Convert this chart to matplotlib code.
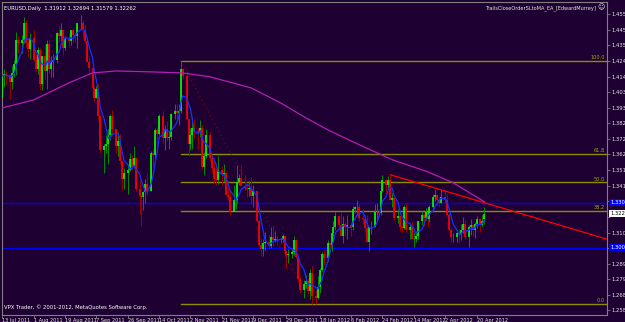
"""EURUSD daily candles (Jul 2011 - Apr 2012) drawn in MetaTrader style."""

import matplotlib

matplotlib.use("Agg")
import matplotlib.pyplot as plt  # noqa: E402
import matplotlib.transforms as mtransforms  # noqa: E402
import numpy as np  # noqa: E402
import pandas as pd  # noqa: E402

# ---- data ----------------------------------------------------------------
start_day = "2011-07-13"
end_day = "2012-04-25"
first_open = 1.4000
last_open = 1.31912

high_jul = [1.4150, 1.4190, 1.4180, 1.4150, 1.4210, 1.4250, 1.4435, 1.4410, 1.4420, 1.4540, 1.4515, 1.4395, 1.4430]
low_jul = [1.3990, 1.4070, 1.4085, 1.3990, 1.4060, 1.4140, 1.4150, 1.4300, 1.4300, 1.4365, 1.4340, 1.4270, 1.4260]
close_jul = [1.4145, 1.4155, 1.4150, 1.4105, 1.4165, 1.4225, 1.4385, 1.4365, 1.4385, 1.4500, 1.4365, 1.4325, 1.4395]

high_aug = [1.4450, 1.4290, 1.4340, 1.4330, 1.4280, 1.4355, 1.4385, 1.4385, 1.4280, 1.4290, 1.4440, 1.4480,
            1.4495, 1.4425, 1.4410, 1.4430, 1.4445, 1.4465, 1.4440, 1.4500, 1.4548, 1.4515, 1.4490]
low_aug = [1.4245, 1.4175, 1.4160, 1.4050, 1.4050, 1.4125, 1.4060, 1.4165, 1.4135, 1.4140, 1.4230, 1.4370,
           1.4380, 1.4285, 1.4320, 1.4340, 1.4350, 1.4370, 1.4370, 1.4330, 1.4460, 1.4390, 1.4365]
close_aug = [1.4250, 1.4190, 1.4320, 1.4090, 1.4280, 1.4180, 1.4355, 1.4190, 1.4240, 1.4250, 1.4430, 1.4410,
             1.4450, 1.4330, 1.4390, 1.4380, 1.4450, 1.4415, 1.4410, 1.4495, 1.4500, 1.4450, 1.4380]

high_sep = [1.4405, 1.4270, 1.4185, 1.4080, 1.4080, 1.4090, 1.3880, 1.3690, 1.3750, 1.3790, 1.3890,
            1.3915, 1.3790, 1.3770, 1.3760, 1.3580, 1.3530, 1.3560, 1.3630, 1.3620, 1.3680, 1.3600]
low_sep = [1.4235, 1.4150, 1.4030, 1.3975, 1.3995, 1.3850, 1.3630, 1.3495, 1.3630, 1.3560, 1.3720,
           1.3745, 1.3630, 1.3610, 1.3560, 1.3385, 1.3390, 1.3360, 1.3510, 1.3520, 1.3530, 1.3380]
close_sep = [1.4235, 1.4200, 1.4065, 1.4000, 1.4060, 1.3880, 1.3650, 1.3680, 1.3690, 1.3750, 1.3880,
             1.3790, 1.3680, 1.3710, 1.3580, 1.3460, 1.3495, 1.3520, 1.3590, 1.3540, 1.3600, 1.3390]

high_oct = [1.3450, 1.3350, 1.3380, 1.3460, 1.3500, 1.3645, 1.3660, 1.3800, 1.3805, 1.3890, 1.3910,
            1.3820, 1.3845, 1.3775, 1.3895, 1.3960, 1.3960, 1.3960, 1.4247, 1.4200, 1.4170]
low_oct = [1.3225, 1.3145, 1.3250, 1.3300, 1.3350, 1.3380, 1.3540, 1.3590, 1.3680, 1.3750, 1.3700,
           1.3650, 1.3710, 1.3655, 1.3720, 1.3860, 1.3845, 1.3820, 1.3900, 1.4125, 1.3860]
close_oct = [1.3345, 1.3335, 1.3370, 1.3425, 1.3380, 1.3630, 1.3620, 1.3785, 1.3760, 1.3880, 1.3730,
             1.3790, 1.3730, 1.3740, 1.3890, 1.3910, 1.3900, 1.3910, 1.4190, 1.4145, 1.3860]

high_nov = [1.3860, 1.3800, 1.3870, 1.3860, 1.3805, 1.3850, 1.3815, 1.3640, 1.3790, 1.3770, 1.3620,
            1.3580, 1.3560, 1.3610, 1.3545, 1.3555, 1.3510, 1.3410, 1.3380, 1.3420, 1.3380, 1.3550]
low_nov = [1.3610, 1.3650, 1.3660, 1.3730, 1.3655, 1.3735, 1.3525, 1.3485, 1.3600, 1.3580, 1.3495,
           1.3430, 1.3420, 1.3425, 1.3420, 1.3440, 1.3355, 1.3320, 1.3215, 1.3270, 1.3260, 1.3295]
close_nov = [1.3690, 1.3750, 1.3800, 1.3780, 1.3770, 1.3800, 1.3540, 1.3610, 1.3750, 1.3600, 1.3530,
             1.3460, 1.3450, 1.3520, 1.3490, 1.3500, 1.3350, 1.3340, 1.3240, 1.3320, 1.3320, 1.3440]

high_dec = [1.3490, 1.3550, 1.3485, 1.3425, 1.3445, 1.3470, 1.3420, 1.3380, 1.3190, 1.3060, 1.3060,
            1.3105, 1.3085, 1.3140, 1.3150, 1.3110, 1.3080, 1.3065, 1.3090, 1.3080, 1.2980, 1.2990]
low_dec = [1.3415, 1.3420, 1.3385, 1.3335, 1.3345, 1.3290, 1.3270, 1.3170, 1.3010, 1.2945, 1.2945,
           1.2985, 1.2990, 1.2995, 1.3010, 1.3035, 1.3015, 1.3030, 1.3040, 1.2940, 1.2860, 1.2900]
close_dec = [1.3465, 1.3410, 1.3400, 1.3390, 1.3400, 1.3345, 1.3380, 1.3180, 1.3020, 1.2990, 1.3030,
             1.3040, 1.3010, 1.3070, 1.3050, 1.3060, 1.3050, 1.3050, 1.3080, 1.2980, 1.2950, 1.2960]

high_jan = [1.2990, 1.3080, 1.3055, 1.2950, 1.2810, 1.2785, 1.2815, 1.2795, 1.2860, 1.2880, 1.2720,
            1.2810, 1.2865, 1.2970, 1.2985, 1.3050, 1.3040, 1.3100, 1.3180, 1.3235, 1.3200, 1.3235]
low_jan = [1.2930, 1.2950, 1.2930, 1.2770, 1.2700, 1.2665, 1.2730, 1.2690, 1.2660, 1.2624, 1.2625,
           1.2660, 1.2700, 1.2845, 1.2885, 1.2910, 1.2975, 1.2975, 1.3075, 1.3120, 1.3115, 1.3080]
close_jan = [1.2970, 1.3050, 1.2940, 1.2790, 1.2720, 1.2760, 1.2780, 1.2710, 1.2830, 1.2680, 1.2665,
             1.2740, 1.2850, 1.2960, 1.2930, 1.3030, 1.3020, 1.3100, 1.3140, 1.3210, 1.3150, 1.3080]

high_feb = [1.3210, 1.3170, 1.3220, 1.3170, 1.3275, 1.3280, 1.3320, 1.3290, 1.3260, 1.3220, 1.3220,
            1.3140, 1.3180, 1.3290, 1.3295, 1.3260, 1.3380, 1.3485, 1.3460, 1.3480, 1.3486]
low_feb = [1.3030, 1.3075, 1.3060, 1.3080, 1.3115, 1.3230, 1.3220, 1.3175, 1.3160, 1.3110, 1.3035,
           1.2975, 1.3090, 1.3140, 1.3180, 1.3205, 1.3215, 1.3370, 1.3345, 1.3395, 1.3325]
close_feb = [1.3160, 1.3140, 1.3150, 1.3140, 1.3260, 1.3270, 1.3270, 1.3195, 1.3190, 1.3130, 1.3040,
             1.3140, 1.3140, 1.3240, 1.3240, 1.3230, 1.3380, 1.3450, 1.3420, 1.3450, 1.3320]

high_mar = [1.3365, 1.3330, 1.3260, 1.3210, 1.3150, 1.3285, 1.3295, 1.3165, 1.3170, 1.3095, 1.3110,
            1.3180, 1.3245, 1.3240, 1.3265, 1.3245, 1.3285, 1.3355, 1.3385, 1.3360, 1.3340, 1.3385]
low_mar = [1.3270, 1.3185, 1.3165, 1.3110, 1.3105, 1.3125, 1.3105, 1.3055, 1.3055, 1.3005, 1.3040,
           1.3055, 1.3150, 1.3145, 1.3185, 1.3140, 1.3170, 1.3250, 1.3310, 1.3285, 1.3275, 1.3295]
close_mar = [1.3330, 1.3200, 1.3210, 1.3140, 1.3130, 1.3270, 1.3120, 1.3140, 1.3060, 1.3060, 1.3080,
             1.3180, 1.3220, 1.3200, 1.3240, 1.3190, 1.3270, 1.3340, 1.3350, 1.3320, 1.3300, 1.3340]

high_apr = [1.3385, 1.3355, 1.3230, 1.3135, 1.3100, 1.3120, 1.3125, 1.3155, 1.3205, 1.3185, 1.3150,
            1.3190, 1.3160, 1.3170, 1.3210, 1.3200, 1.3215, 1.32694]
low_apr = [1.3295, 1.3210, 1.3110, 1.3035, 1.3035, 1.3035, 1.3030, 1.3050, 1.3100, 1.3060, 1.3005,
           1.3085, 1.3080, 1.3065, 1.3130, 1.3105, 1.3140, 1.31579]
close_apr = [1.3320, 1.3220, 1.3120, 1.3070, 1.3070, 1.3100, 1.3090, 1.3120, 1.3160, 1.3070, 1.3140,
             1.3150, 1.3120, 1.3160, 1.3190, 1.3150, 1.3180, 1.32262]

# long moving average (magenta), read at a few dates
ma_long_dates = ["2011-07-13", "2011-08-01", "2011-08-22", "2011-09-05", "2011-09-19", "2011-10-10",
                 "2011-10-28", "2011-11-14", "2011-12-08", "2011-12-26", "2012-01-09", "2012-01-23",
                 "2012-02-08", "2012-03-01", "2012-03-22", "2012-04-06", "2012-04-25"]
ma_long_vals = [1.3932, 1.3985, 1.4099, 1.4165, 1.4178, 1.4172, 1.4165, 1.4139, 1.4065, 1.3965,
                1.3872, 1.3786, 1.3699, 1.3586, 1.3506, 1.3433, 1.3306]

# fibonacci retracement anchors and levels
fib_high_day, fib_high = "2011-10-27", 1.4247
fib_low_day, fib_low = "2012-01-13", 1.2624
fib_levels = [0.0, 38.2, 50.0, 61.8, 100.0]

# red trend line anchors
trend_days = ["2012-02-29", "2012-03-30"]
trend_prices = [1.3486, 1.3385]

# horizontal levels (blue)
hlines = [1.3300, 1.3000]

price_ticks = [1.2581, 1.2685, 1.2790, 1.2894, 1.2998, 1.3100, 1.3206, 1.3311, 1.3412, 1.3517,
               1.3623, 1.3724, 1.3828, 1.3930, 1.4035, 1.4141, 1.4246, 1.4351, 1.4452, 1.4558]
date_ticks = ["2011-07-13", "2011-08-01", "2011-08-19", "2011-09-07", "2011-09-26", "2011-10-14",
              "2011-11-02", "2011-11-21", "2011-12-09", "2011-12-29", "2012-01-18", "2012-02-06",
              "2012-02-24", "2012-03-14", "2012-04-02", "2012-04-20"]

header = "EURUSD,Daily  1.31912 1.32694 1.31579 1.32262"
ea_name = "TrailsCloseOrderSLtoMA_EA_[EdwardMurrey]"
footer = "VPX Trader, \u00a9 2001-2012, MetaQuotes Software Corp."

# ---- assemble ---------------------------------------------------------------
highs = np.array(high_jul + high_aug + high_sep + high_oct + high_nov + high_dec
                 + high_jan + high_feb + high_mar + high_apr)
lows = np.array(low_jul + low_aug + low_sep + low_oct + low_nov + low_dec
                + low_jan + low_feb + low_mar + low_apr)
closes = np.array(close_jul + close_aug + close_sep + close_oct + close_nov + close_dec
                  + close_jan + close_feb + close_mar + close_apr)
days = pd.bdate_range(start_day, end_day)
assert len(days) == len(closes) == len(highs) == len(lows)
opens = np.concatenate([[first_open], closes[:-1]])
opens[-1] = last_open


def bar_pos(day):
    # the broker shows Sunday bars, so the chart counts every day but Saturday
    return np.busday_count(start_day, np.datetime64(pd.Timestamp(day).date()), weekmask="1111101")


x = np.array([bar_pos(d) for d in days])
ma_short = pd.Series(closes).rolling(5, min_periods=1).mean().to_numpy()

plt.rcParams["font.family"] = ["Liberation Sans Narrow", "DejaVu Sans"]
BG = "#1e0032"
TXT = "#e6e6e6"
fig = plt.figure(figsize=(6.25, 3.22), dpi=100, facecolor=BG)
ax = fig.add_axes([2 / 625, 7.5 / 322, 605 / 625, 312.5 / 322], facecolor=BG)
x_left, x_right = -0.2, 308.6
ax.set_xlim(x_left, x_right)
ax.set_ylim(1.2554, 1.4638)

# fibonacci
fx0 = bar_pos(fib_high_day)
for lvl in fib_levels:
    p = fib_low + (fib_high - fib_low) * lvl / 100
    ax.plot([fx0, x_right], [p, p], color="#8c8c00", lw=1, zorder=1)
    ax.text(x_right - 1, p + 0.0005, f"{lvl:.1f}", color="#a8a800", fontsize=3.6,
            ha="right", va="bottom", zorder=6)
ax.plot([fx0, bar_pos(fib_low_day)], [fib_high, fib_low], color="#8b0000", lw=0.8,
        ls=(0, (1, 3)), zorder=1)

for h in hlines:
    ax.axhline(h, color="#0000ff", lw=1, zorder=1)

# candles
up = closes >= opens
wick_col = np.where(up, "#008c00", "#a00000")
body_col = np.where(up, "#00ff00", "#ff0000")
ax.vlines(x, lows, highs, colors=wick_col, lw=0.7, zorder=2)
ax.vlines(x, opens, closes, colors=body_col, lw=1.2, zorder=3)

ax.plot(x, ma_short, color="#1432ff", lw=0.9, zorder=4)
ax.plot([bar_pos(d) for d in ma_long_dates], ma_long_vals, color="#b41eb4", lw=0.9, zorder=4)

# trend line, extended to the right edge
tx = np.array([bar_pos(d) for d in trend_days], dtype=float)
slope = (trend_prices[1] - trend_prices[0]) / (tx[1] - tx[0])
ax.plot([tx[0], x_right], [trend_prices[0], trend_prices[0] + slope * (x_right - tx[0])],
        color="#ff0000", lw=0.9, zorder=5)

# axes styling
for s in ax.spines.values():
    s.set_color("#808080")
    s.set_linewidth(0.8)
ax.yaxis.tick_right()
ax.set_yticks(price_ticks)
ax.set_yticklabels([f"{p:.5f}" for p in price_ticks])
ax.set_xticks([bar_pos(d) for d in date_ticks])
ax.set_xticklabels([pd.Timestamp(d).strftime("%-d %b %Y") for d in date_ticks])
ax.tick_params(axis="both", colors="#808080", labelcolor=TXT, length=2, width=0.6)
ax.tick_params(axis="y", labelsize=3.8, pad=1.5)
ax.tick_params(axis="x", labelsize=3.6, pad=0.6)
for lab in ax.get_xticklabels():
    lab.set_ha("left")
# the level boxes sit on top of these scale labels
boxed = list(hlines) + [closes[-1]]
for p, lab in zip(price_ticks, ax.get_yticklabels()):
    if min(abs(p - b) for b in boxed) < 0.0035:
        lab.set_visible(False)

# price boxes on the scale
trans = mtransforms.blended_transform_factory(ax.transAxes, ax.transData)
for h in hlines:
    ax.text(1.005, h, f"{h:.5f}", transform=trans, color="white", fontsize=3.8, va="center",
            ha="left", bbox=dict(boxstyle="square,pad=0.15", fc="#0000ff", ec="none"), clip_on=False)
ax.text(1.005, closes[-1], f"{closes[-1]:.5f}", transform=trans, color="black", fontsize=3.8,
        va="center", ha="left", bbox=dict(boxstyle="square,pad=0.15", fc="white", ec="none"),
        clip_on=False)

ax.text(0.004, 0.988, header, transform=ax.transAxes, color="white", fontsize=3.8, va="top")
ax.text(0.982, 0.988, ea_name, transform=ax.transAxes, color=TXT, fontsize=3.6,
        va="top", ha="right")
ax.text(0.996, 0.993, "\u263a", transform=ax.transAxes, color=TXT, fontsize=5,
        va="top", ha="right", family="DejaVu Sans")
ax.text(0.003, 0.014, footer, transform=ax.transAxes, color="white", fontsize=3.8, va="bottom")

fig.savefig("out.png", dpi=100, facecolor=BG)
